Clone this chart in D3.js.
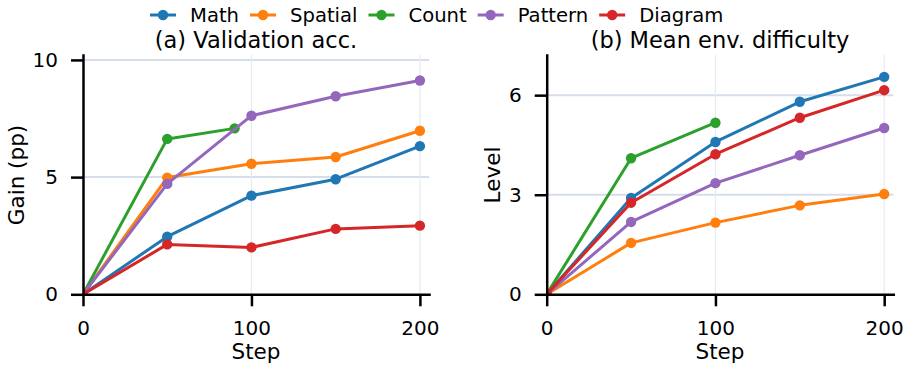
<!DOCTYPE html>
<html>
<head>
<meta charset="utf-8">
<script src="https://cdn.jsdelivr.net/npm/d3@7"></script>
<style>
  html, body { margin: 0; padding: 0; background: #fff; }
  svg { display: block; font-family: "DejaVu Sans", sans-serif; }
</style>
</head>
<body>
<div class="vis"></div>
<script>
'use strict';

// ---- data ----
var seriesNames = ['Math', 'Spatial', 'Count', 'Pattern', 'Diagram'];
var seriesColors = ['#1f77b4', '#ff7f0e', '#2ca02c', '#9467bd', '#d62728'];

var steps = [0, 50, 100, 150, 200];
var countStepsAcc = [0, 50, 90];
var countStepsLevel = [0, 50, 100];

// (a) validation accuracy gain, pp
var accMath = [0, 2.46, 4.21, 4.91, 6.32];
var accSpatial = [0, 4.98, 5.57, 5.86, 6.98];
var accCount = [0, 6.63, 7.08];
var accPattern = [0, 4.71, 7.62, 8.45, 9.12];
var accDiagram = [0, 2.13, 2.0, 2.79, 2.93];

// (b) mean env. difficulty level
var lvlMath = [0, 2.90, 4.59, 5.80, 6.55];
var lvlSpatial = [0, 1.55, 2.16, 2.68, 3.02];
var lvlCount = [0, 4.10, 5.17];
var lvlPattern = [0, 2.18, 3.35, 4.19, 5.01];
var lvlDiagram = [0, 2.76, 4.22, 5.32, 6.15];

var xTicks = [0, 100, 200];
var accTicks = [0, 5, 10];
var lvlTicks = [0, 3, 6];

(function () {

	var panels = [
		{
			title: '(a) Validation acc.', ylabel: 'Gain (pp)', yMax: 10.21, yTicks: accTicks,
			left: 83, right: 429,
			series: [
				{ x: steps, y: accMath }, { x: steps, y: accSpatial }, { x: countStepsAcc, y: accCount },
				{ x: steps, y: accPattern }, { x: steps, y: accDiagram }
			]
		},
		{
			title: '(b) Mean env. difficulty', ylabel: 'Level', yMax: 7.21, yTicks: lvlTicks,
			left: 546.7, right: 893.3,
			series: [
				{ x: steps, y: lvlMath }, { x: steps, y: lvlSpatial }, { x: countStepsLevel, y: lvlCount },
				{ x: steps, y: lvlPattern }, { x: steps, y: lvlDiagram }
			]
		}
	];

	// ---- drawing ----
	var width = 909;
	var height = 371;
	var plotTop = 55;
	var plotBottom = 294.3;
	var xMax = 205.4;

	var svg = d3.select('.vis')
		.append('svg')
			.attr('width', width)
			.attr('height', height);

	panels.forEach(function(p, pi) {
		var x = d3.scaleLinear().domain([0, xMax]).range([p.left, p.right]);
		var y = d3.scaleLinear().domain([0, p.yMax]).range([plotBottom, plotTop]);

		var g = svg.append('g');

		// grid
		g.selectAll('.hgrid')
			.data(p.yTicks.filter(function(d) { return d > 0; }))
			.enter().append('line')
				.attr('x1', p.left).attr('x2', p.right)
				.attr('y1', function(d) { return y(d); })
				.attr('y2', function(d) { return y(d); })
				.attr('stroke', '#d5deea')
				.attr('stroke-width', 2);

		g.selectAll('.vgrid')
			.data(xTicks.filter(function(d) { return d > 0; }))
			.enter().append('line')
				.attr('x1', function(d) { return x(d); })
				.attr('x2', function(d) { return x(d); })
				.attr('y1', plotTop).attr('y2', plotBottom)
				.attr('stroke', '#e6ebf2')
				.attr('stroke-width', 1.2);

		// clip to axes box, like matplotlib
		var clipId = 'clip' + pi;
		svg.append('clipPath').attr('id', clipId)
			.append('rect')
				.attr('x', p.left).attr('y', plotTop)
				.attr('width', p.right - p.left).attr('height', plotBottom - plotTop);

		var plot = g.append('g').attr('clip-path', 'url(#' + clipId + ')');

		var line = d3.line()
			.x(function(d) { return x(d[0]); })
			.y(function(d) { return y(d[1]); });

		p.series.forEach(function(s, si) {
			var pts = s.x.map(function(v, i) { return [v, s.y[i]]; });
			plot.append('path')
				.datum(pts)
				.attr('d', line)
				.attr('fill', 'none')
				.attr('stroke', seriesColors[si])
				.attr('stroke-width', 3)
				.attr('stroke-linejoin', 'round')
				.attr('stroke-linecap', 'round');
			plot.selectAll('.dot' + si)
				.data(pts)
				.enter().append('circle')
					.attr('cx', function(d) { return x(d[0]); })
					.attr('cy', function(d) { return y(d[1]); })
					.attr('r', 5.2)
					.attr('fill', seriesColors[si]);
		});

		// axes
		var xAxis = g.append('g')
			.attr('transform', 'translate(0,' + plotBottom + ')')
			.call(d3.axisBottom(x).tickValues(xTicks).tickSize(12).tickSizeOuter(0).tickPadding(15));
		var yAxis = g.append('g')
			.attr('transform', 'translate(' + p.left + ',0)')
			.call(d3.axisLeft(y).tickValues(p.yTicks).tickSize(12).tickSizeOuter(0).tickPadding(13));

		[xAxis, yAxis].forEach(function(a) {
			a.select('.domain').attr('stroke', '#000').attr('stroke-width', 2.5).attr('stroke-linecap', 'square');
			a.selectAll('.tick line').attr('stroke', '#000').attr('stroke-width', 2.5);
			a.selectAll('.tick text')
				.attr('fill', '#000')
				.style('font-size', '20px')
				.style('font-family', '"DejaVu Sans", sans-serif');
		});

		// labels
		var cx = (p.left + p.right) / 2;
		g.append('text')
			.attr('x', cx).attr('y', 48)
			.attr('text-anchor', 'middle')
			.style('font-size', '22.5px')
			.text(p.title);

		g.append('text')
			.attr('x', cx).attr('y', 359)
			.attr('text-anchor', 'middle')
			.style('font-size', '21.5px')
			.text('Step');

		var labelX = pi === 0 ? 24 : 500;
		g.append('text')
			.attr('transform', 'translate(' + labelX + ',175) rotate(-90)')
			.attr('text-anchor', 'middle')
			.style('font-size', '21.5px')
			.text(p.ylabel);
	});

	// legend
	var legend = svg.append('g');
	var lx = 150;
	seriesNames.forEach(function(name, i) {
		var item = legend.append('g').attr('transform', 'translate(' + lx + ',0)');
		item.append('line')
			.attr('x1', 0).attr('x2', 26)
			.attr('y1', 15).attr('y2', 15)
			.attr('stroke', seriesColors[i])
			.attr('stroke-width', 3);
		item.append('circle')
			.attr('cx', 13).attr('cy', 15).attr('r', 5.2)
			.attr('fill', seriesColors[i]);
		var t = item.append('text')
			.attr('x', 40).attr('y', 22)
			.style('font-size', '19.6px')
			.text(name);
		lx += 40 + t.node().getComputedTextLength() + 11;
	});

})();
</script>
</body>
</html>
